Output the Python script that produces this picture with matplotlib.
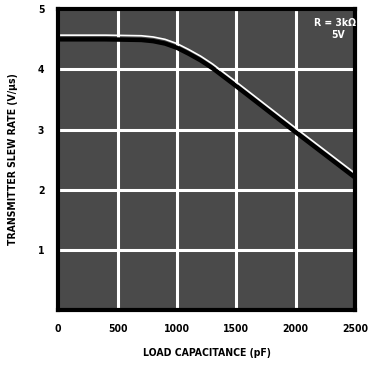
import matplotlib
matplotlib.use("Agg")
import matplotlib.pyplot as plt

# values
load_pf = [0, 400, 700, 800, 900, 1000, 1100, 1200, 1300, 1400, 1500, 1970, 2500]
slew_rate = [4.5, 4.5, 4.49, 4.47, 4.43, 4.36, 4.26, 4.15, 4.02, 3.87, 3.72, 3.0, 2.2]

x_ticks = [0, 500, 1000, 1500, 2000, 2500]
y_ticks = [1, 2, 3, 4, 5]

plt.rcParams['font.family'] = ['DejaVu Sans']
font = dict(fontsize=7.5, fontweight='bold', fontstretch='condensed')

fig = plt.figure(figsize=(3.68, 3.72), dpi=100)
ax = fig.add_axes([0.158, 0.167, 0.807, 0.808])
ax.set_facecolor('#4a4a4a')

ax.plot(load_pf, slew_rate, color='black', linewidth=3.2, solid_capstyle='butt')
ax.plot(load_pf, [v + 0.07 for v in slew_rate], color='white', linewidth=1.2)

ax.set_xlim(0, 2500)
ax.set_ylim(0, 5)
ax.set_xticks(x_ticks)
ax.set_yticks(y_ticks)
ax.grid(True, color='white', linewidth=2.2)
ax.set_axisbelow(True)
ax.tick_params(length=0, pad=10)
ax.set_xticklabels([str(t) for t in x_ticks], **font)
ax.set_yticklabels([str(t) for t in y_ticks], **font)
for s in ax.spines.values():
    s.set_linewidth(3)

ax.set_xlabel('LOAD CAPACITANCE (pF)', labelpad=10, **font)
ax.set_ylabel('TRANSMITTER SLEW RATE (V/\u00b5s)', labelpad=14, **font)

ax.text(2150, 4.78, 'R = 3k\u03a9', color='white', ha='left', va='center', **font)
ax.text(2300, 4.58, '5V', color='white', ha='left', va='center', **font)

fig.savefig('out.png', dpi=100)
